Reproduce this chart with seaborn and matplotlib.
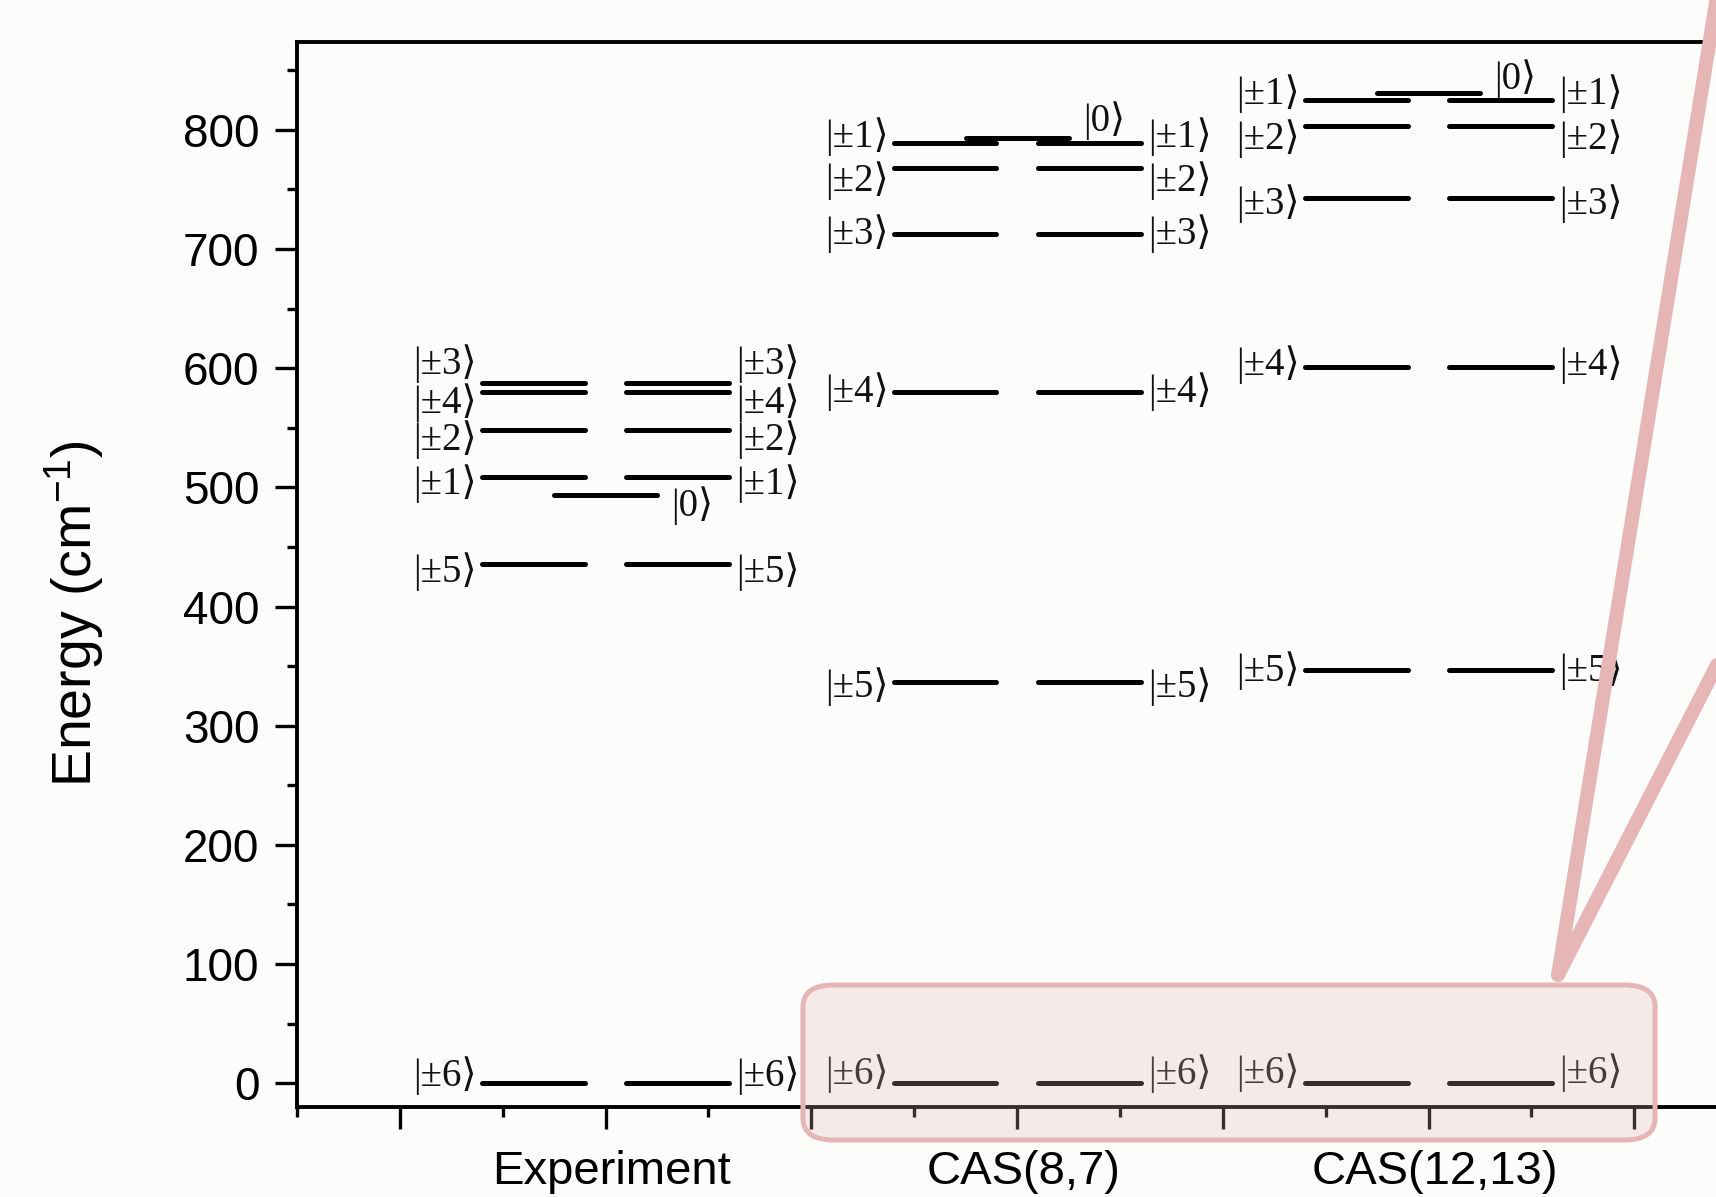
import numpy as np
import pandas as pd
import matplotlib
matplotlib.use("Agg")
import matplotlib.pyplot as plt
import matplotlib.transforms as mtransforms
from matplotlib.lines import Line2D
from matplotlib.patches import FancyBboxPatch
import seaborn as sns

# energy levels (cm-1)
groups = ['Experiment', 'CAS(8,7)', 'CAS(12,13)']
states = ['±6', '±5', '±4', '±3', '±2', '±1', '0']
exp_energy = [0, 436, 580, 588, 548, 509, 494]
cas87_energy = [0, 337, 580, 713, 768, 789, 793]
cas1213_energy = [0, 347, 601, 743, 803, 825, 831]

# layout: where the groups sit on the x axis and how far the kets are nudged
group_pos = [2, 4, 6]
label_shift = [
    [6, -7, -9, 16, -8, -6, -9],
    [8, -4, 0, 0, -11, 5, 15],
    [9, -1, 2, -5, -10, 5, 12],
]

energies = [exp_energy, cas87_energy, cas1213_energy]

rows = []
seg = 0
for g, c, en in zip(groups, group_pos, energies):
    for s, e in zip(states, en):
        if s == '0':
            spans = [(c - 0.25, c + 0.25)]
        else:
            spans = [(c - 0.6, c - 0.1), (c + 0.1, c + 0.6)]
        for x0, x1 in spans:
            rows.append({'group': g, 'state': s, 'x': x0, 'y': e, 'seg': seg})
            rows.append({'group': g, 'state': s, 'x': x1, 'y': e, 'seg': seg})
            seg += 1
levels = pd.DataFrame(rows)

sns.set_theme(style='ticks')
plt.rcParams['font.family'] = ['Liberation Sans', 'DejaVu Sans']
plt.rcParams['mathtext.fontset'] = 'custom'
plt.rcParams['mathtext.rm'] = 'Liberation Sans'
plt.rcParams['mathtext.it'] = 'Liberation Sans'
plt.rcParams['text.color'] = 'black'

W, H = 1716, 1197
fig = plt.figure(figsize=(W / 100, H / 100), dpi=100, facecolor='#fcfcfb')
ax = fig.add_axes([297 / W, 1 - 1107 / H, 1543 / W, (1107 - 41.7) / H])
ax.set_facecolor('#fcfcfb')

sns.lineplot(data=levels, x='x', y='y', units='seg', estimator=None, sort=False,
             color='black', linewidth=3.6, solid_capstyle='round', ax=ax)

ket_font = dict(family=['Liberation Serif', 'DejaVu Serif', 'DejaVu Sans'], fontsize=28, color='#111111')
for c, en, sh in zip(group_pos, energies, label_shift):
    for s, e, d in zip(states, en, sh):
        txt = '|' + s + '\u27e9'
        if s == '0':
            ax.text(c + 0.25 + 0.07, e + d, txt, ha='left', va='center', **ket_font)
        else:
            ax.text(c - 0.6 - 0.025, e + d, txt, ha='right', va='center', **ket_font)
            ax.text(c + 0.6 + 0.035, e + d, txt, ha='left', va='center', **ket_font)

ax.set_xlim(0.5, 8.0)
ax.set_ylim(-20, 874)
ax.set_xticks(range(1, 8))
ax.set_xticklabels(['', groups[0], '', groups[1], '', groups[2], ''])
ax.set_xticks(np.arange(0.5, 8.0, 1.0), minor=True)
ax.set_yticks(range(0, 801, 100))
ax.set_yticks(range(50, 851, 100), minor=True)
ax.set_xlabel('')
ax.set_ylabel('')

for sp in ax.spines.values():
    sp.set_linewidth(2.8)
    sp.set_color('black')
ax.tick_params(which='major', length=16, width=2.4, labelsize=34, color='black', labelcolor='black')
ax.tick_params(which='minor', length=7, width=2.4, color='black')
ax.tick_params(axis='y', which='major', pad=11, labelsize=33)
ax.tick_params(axis='x', which='major', pad=15)
# group names sit a touch right of their ticks in the original
nudge = mtransforms.ScaledTranslation(6 / 100, 0, fig.dpi_scale_trans)
for lab in ax.get_xticklabels():
    lab.set_transform(lab.get_transform() + nudge)

fig.text(74 / W, 1 - 614 / H, 'Energy (cm$^{-1}$)', rotation=90, ha='center', va='center',
         fontsize=40, color='black')

# highlight box and callout
pink = '#e6b6b6'
box = FancyBboxPatch((803 / W, 1 - 1140 / H), (1655 - 803) / W, (1140 - 985) / H,
                     boxstyle='round,pad=0,rounding_size=0.018', transform=fig.transFigure,
                     facecolor=pink, alpha=0.25, edgecolor='none', zorder=5)
fig.add_artist(box)
edge = FancyBboxPatch((803 / W, 1 - 1140 / H), (1655 - 803) / W, (1140 - 985) / H,
                      boxstyle='round,pad=0,rounding_size=0.018', transform=fig.transFigure,
                      facecolor='none', edgecolor=pink, linewidth=3.6, zorder=6)
fig.add_artist(edge)

apex = (1558, 975)
for end in [(1718, -10), (1740, 620)]:
    fig.add_artist(Line2D([apex[0] / W, end[0] / W], [1 - apex[1] / H, 1 - end[1] / H],
                          transform=fig.transFigure, color=pink, linewidth=10,
                          solid_capstyle='round', zorder=7))

fig.savefig('out.png', dpi=100, facecolor=fig.get_facecolor())
